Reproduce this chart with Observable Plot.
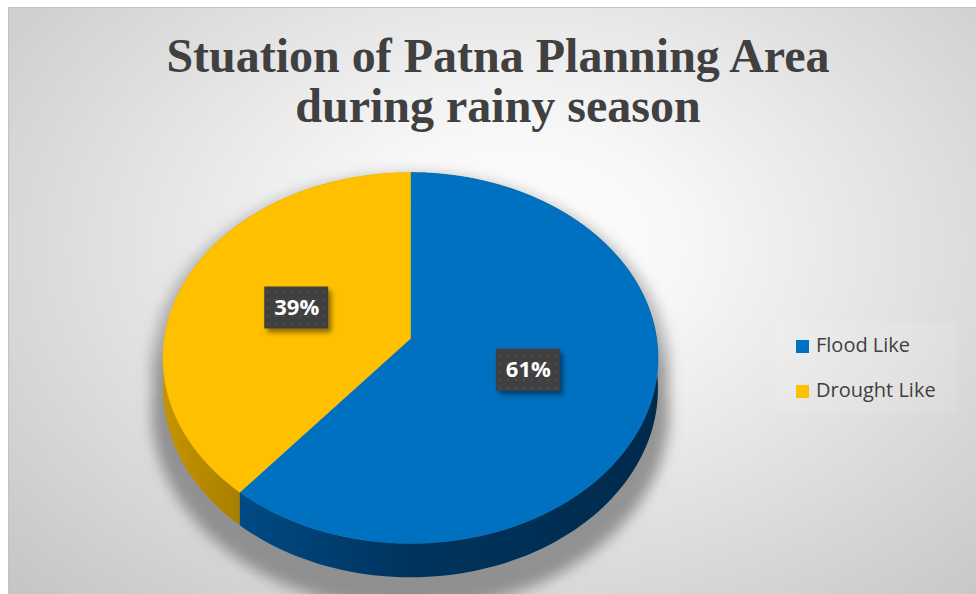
<!DOCTYPE html>
<html>
<head>
<meta charset="utf-8">
<script src="https://cdn.jsdelivr.net/npm/d3@7"></script>
<script src="https://cdn.jsdelivr.net/npm/@observablehq/plot@0.6"></script>
<style>
  html, body { margin: 0; padding: 0; background: #ffffff; }
  #wrap { position: relative; width: 976px; height: 594px; overflow: hidden; background: #ffffff; }
  #bg {
    position: absolute; left: 8px; top: 7px; width: 975px; height: 594px;
    border-top: 1px solid #c2c2c2; border-left: 1px solid #c2c2c2;
    background: radial-gradient(ellipse farthest-corner at 52% 40%, #ffffff 0%, #f8f8f8 22%, #e2e2e2 55%, #c4c4c4 100%);
  }
  #title {
    position: absolute; top: 31px; left: 498px; transform: translateX(-50%);
    white-space: nowrap; text-align: center;
    font-family: "Liberation Serif", "Times New Roman", serif; font-weight: bold;
    font-size: 48px; line-height: 50px; color: #404040;
  }
  #chart { position: absolute; left: 0; top: 0; }
  #legendbox { position: absolute; left: 775px; top: 322px; width: 182px; height: 91px; background: rgba(255,255,255,0.1); }
  #legend { position: absolute; left: 796px; top: 335px; font-family: "Open Sans", sans-serif; font-size: 20px; line-height: 20px; color: #404040; }
  .item { position: relative; height: 45px; padding-left: 20px; white-space: nowrap; }
  .sw { position: absolute; left: 0; top: 5px; width: 13px; height: 13px; }
</style>
</head>
<body>
<div id="wrap">
  <div id="bg"></div>
  <div id="title">Stuation of Patna Planning Area<br>during rainy season</div>
  <div id="chart"></div>
  <div id="legendbox"></div>
  <div id="legend"></div>
</div>
<script>
// ---- data ----
const categories = ["Flood Like", "Drought Like"];
const values = [61, 39];
const labelTexts = ["61%", "39%"];
const colors = ["#0070C0", "#FFC000"];

// ---- view (3D pie) parameters ----
const VIEW = {tilt: 0.745, persp: -0.105, depth: 0.1235};
const XDOMAIN = [-1.666, 2.300];
const YDOMAIN = [-1.3734, 1.0402];
const STEPS = 200;

function proj(theta, r, h, s = 1) {
  const u = r * Math.sin(theta) * s;
  const w = -r * Math.cos(theta) * s;
  const d = 1 + VIEW.persp * w;
  return {X: u / d, Y: (VIEW.tilt * w + VIEW.depth * h) / d};
}

const total = d3.sum(values);
let acc = 0;
const slices = categories.map((c, i) => {
  const a0 = acc / total * 2 * Math.PI;
  acc += values[i];
  const a1 = acc / total * 2 * Math.PI;
  return {key: c, a0, a1, i};
});

function arc(a0, a1, r, h, s = 1) {
  const n = Math.max(2, Math.ceil(STEPS * (a1 - a0) / (2 * Math.PI)));
  return d3.range(n + 1).map(k => proj(a0 + (a1 - a0) * k / n, r, h, s));
}

// top faces
const topData = slices.flatMap(s => [proj(0, 0, 0), ...arc(s.a0, s.a1, 1, 0), proj(0, 0, 0)].map(p => ({...p, key: s.key})));
// side faces
const sideData = slices.map(s => [...arc(s.a0, s.a1, 1, 0), ...arc(s.a0, s.a1, 1, 1).reverse()].map(p => ({...p, key: s.key})));
// shadow silhouette
const shadowData = [
  ...arc(0, 2 * Math.PI, 1, 0, 1.045).map(p => ({...p, key: "top"})),
  ...arc(0, 2 * Math.PI, 1, 1.4, 1.045).map(p => ({...p, key: "bottom"})),
  ...[...arc(Math.PI / 2, 3 * Math.PI / 2, 1, 0, 1.045), ...arc(Math.PI / 2, 3 * Math.PI / 2, 1, 1.4, 1.045).reverse()].map(p => ({...p, key: "side"}))
];
// labels
const labelData = slices.map(s => ({...proj((s.a0 + s.a1) / 2, 0.5, 0), text: labelTexts[s.i]}));

const sideFills = ["url(#gradFlood)", "url(#gradDrought)"];

const svg = Plot.plot({
  width: 976,
  height: 594,
  margin: 0,
  style: {background: "transparent", overflow: "visible"},
  x: {domain: XDOMAIN, range: [0, 976], axis: null},
  y: {domain: YDOMAIN, range: [0, 594], axis: null},
  color: {domain: categories, range: colors},
  marks: [
    Plot.line(shadowData, {x: "X", y: "Y", z: "key", fill: "#777777", stroke: "none", dy: 8, opacity: 0.5}),
    ...slices.slice().reverse().map(s => Plot.line(sideData[s.i], {x: "X", y: "Y", fill: sideFills[s.i], stroke: "none"})),
    Plot.line(topData, {x: "X", y: "Y", z: "key", fill: "key", stroke: "key", strokeWidth: 0.6}),
    Plot.rect(labelData, {x1: "X", x2: "X", y1: "Y", y2: "Y", insetLeft: -32, insetRight: -32, insetTop: -21, insetBottom: -21, fill: "url(#dots)"}),
    Plot.text(labelData, {x: "X", y: "Y", text: "text", fill: "white", fontSize: 22, fontWeight: 700, fontFamily: "Open Sans"})
  ]
});

// defs: gradients, pattern, filters
const defs = d3.select(svg).insert("defs", ":first-child");
const gf = defs.append("linearGradient").attr("id", "gradFlood").attr("x1", "0").attr("x2", "1").attr("y1", "0").attr("y2", "0");
gf.append("stop").attr("offset", "0.0").attr("stop-color", "#004a85");
gf.append("stop").attr("offset", "0.4").attr("stop-color", "#00345e");
gf.append("stop").attr("offset", "1.0").attr("stop-color", "#002a4c");
const gd = defs.append("linearGradient").attr("id", "gradDrought").attr("x1", "0").attr("x2", "1").attr("y1", "0").attr("y2", "0");
gd.append("stop").attr("offset", "0.0").attr("stop-color", "#c49400");
gd.append("stop").attr("offset", "0.34").attr("stop-color", "#a67d00");
gd.append("stop").attr("offset", "1.0").attr("stop-color", "#a67d00");
const pat = defs.append("pattern").attr("id", "dots").attr("width", 8).attr("height", 8).attr("patternUnits", "userSpaceOnUse");
pat.append("rect").attr("width", 8).attr("height", 8).attr("fill", "#404040");
pat.append("rect").attr("x", 3).attr("y", 3).attr("width", 2).attr("height", 2).attr("fill", "#4e4e4e");
const blur = defs.append("filter").attr("id", "blur").attr("x", "-20%").attr("y", "-20%").attr("width", "140%").attr("height", "140%");
blur.append("feGaussianBlur").attr("stdDeviation", 7);
const ds = defs.append("filter").attr("id", "drop").attr("x", "-30%").attr("y", "-30%").attr("width", "160%").attr("height", "160%");
ds.append("feDropShadow").attr("dx", 3).attr("dy", 4).attr("stdDeviation", 2.5).attr("flood-color", "#000").attr("flood-opacity", 0.45);

const groups = svg.querySelectorAll(":scope > g");
if (groups.length >= 6) {
  groups[0].setAttribute("filter", "url(#blur)");
  groups[4].setAttribute("filter", "url(#drop)");
}

document.getElementById("chart").appendChild(svg);

// legend
const legend = d3.select("#legend");
categories.forEach((c, i) => {
  const item = legend.append("div").attr("class", "item");
  item.append("span").attr("class", "sw").style("background", colors[i]);
  item.append("span").text(c);
});
</script>
</body>
</html>
